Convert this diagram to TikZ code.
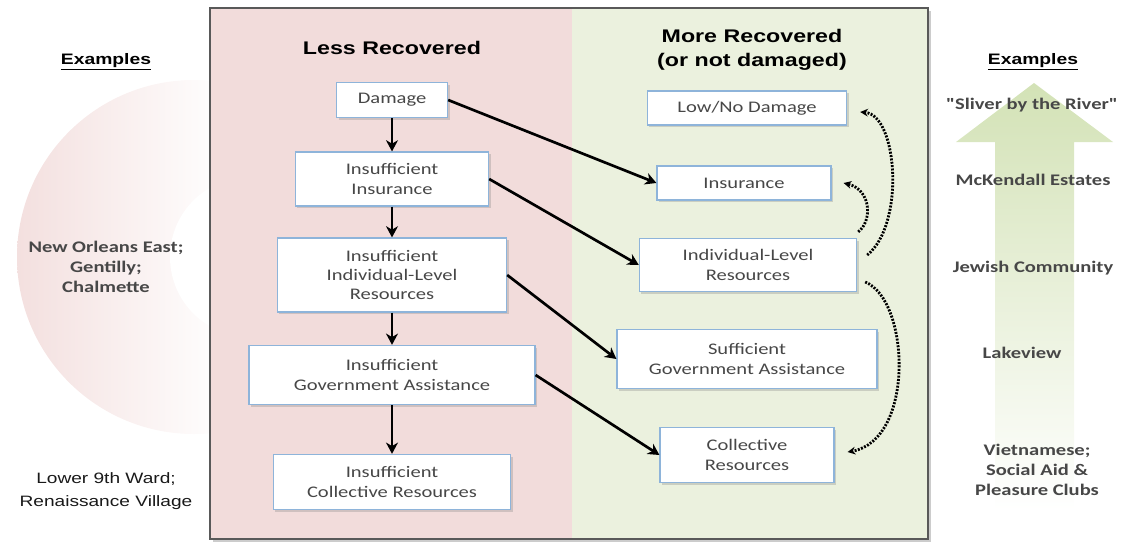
\documentclass[tikz,border=0pt]{standalone}
\usepackage{fontspec}
\usetikzlibrary{arrows.meta,shadows}
\setmainfont{Carlito}[FakeStretch=1.27,Ligatures=TeXOff]
\newfontfamily\headfont{Liberation Sans}[FakeStretch=1.27]
\definecolor{lesspink}{HTML}{F2DCDB}
\definecolor{moregreen}{HTML}{EBF1DE}
\definecolor{boxblue}{HTML}{8EB4DA}
\definecolor{arrowgreen}{HTML}{D3E2B6}
\definecolor{txtgray}{HTML}{474747}

\begin{document}
\begin{tikzpicture}[x=0.025cm,y=-0.025cm,
  box/.style={draw=boxblue,line width=0.8pt,fill=white,align=center,text=txtgray,
    font=\fontsize{11.5}{13.8}\selectfont,
    drop shadow={shadow xshift=1.5pt,shadow yshift=-1.5pt,opacity=0.3}},
  flow/.style={-{Stealth[length=8pt,width=8.5pt,inset=2.5pt]},line width=1.9pt},
  loop/.style={-{Stealth[length=5.5pt,width=5.5pt]},line width=2pt,dash pattern=on 1.4pt off 1pt},
  title/.style={font=\headfont\bfseries\fontsize{13}{17}\selectfont,align=center},
  exhead/.style={font=\headfont\bfseries\fontsize{10.8}{13}\selectfont},
  example/.style={font=\bfseries\fontsize{11.5}{14}\selectfont,text=txtgray,align=center},
  lowex/.style={font=\headfont\fontsize{10.7}{16.4}\selectfont,text=black!90,align=center}]
\useasboundingbox (0,0) rectangle (1123,542);

\begin{scope}
\clip (194,257) circle (177);
\shade[left color=lesspink!90,right color=lesspink!8] (17,80) rectangle (209,434);
\fill[white] (250,257) circle (80);
\end{scope}
\shade[top color=arrowgreen,bottom color=white] (1034,83) -- (1113,142) -- (1074,142)
  -- (1074,510) -- (995,510) -- (995,142) -- (956,142) -- cycle;

\path[fill=lesspink,drop shadow={shadow xshift=2pt,shadow yshift=-2pt,opacity=0.4}] (210,8) rectangle (928,539);
\fill[moregreen] (572,8) rectangle (928,539);
\draw[black!65,line width=1.5pt] (210,8) rectangle (928,539);

\node[title] (lesst) at (392,48) {Less Recovered};
\node[title] (moret) at (752,50) {More Recovered\\(or not damaged)};

\node[box,minimum width=2.78cm,minimum height=0.88cm] (dmg) at (392,100) {Damage};
\node[box,minimum width=4.83cm,minimum height=1.35cm] (ins) at (392,179) {Insufficient\\Insurance};
\node[box,minimum width=5.73cm,minimum height=1.85cm] (ind) at (392,275) {Insufficient\\Individual-Level\\Resources};
\node[box,minimum width=7.15cm,minimum height=1.48cm] (gov) at (392,375) {Insufficient\\Government Assistance};
\node[box,minimum width=5.93cm,minimum height=1.38cm] (col) at (392,482) {Insufficient\\Collective Resources};

\node[box,minimum width=4.98cm,minimum height=0.85cm] (lowdmg) at (747,108) {Low/No Damage};
\node[box,minimum width=4.35cm,minimum height=0.85cm] (insok) at (744,183) {Insurance};
\node[box,minimum width=5.43cm,minimum height=1.33cm] (indok) at (748,265) {Individual-Level\\Resources};
\node[box,minimum width=6.5cm,minimum height=1.48cm] (govok) at (747,359) {Sufficient\\Government Assistance};
\node[box,minimum width=4.35cm,minimum height=1.38cm] (colok) at (747,455) {Collective\\Resources};

\draw[flow] (dmg.south) -- (ins.north);
\draw[flow] (ins.south) -- (ind.north);
\draw[flow] (ind.south) -- (gov.north);
\draw[flow] (gov.south) -- (col.north);

\draw[flow] (dmg.east) -- (insok.west);
\draw[flow] (ins.east) -- (indok.west);
\draw[flow] (ind.east) -- (govok.west);
\draw[flow] (gov.east) -- (colok.west);

\draw[loop] ([shift={(10,-10)}]indok.east) .. controls (905,225) and (898,115) .. ([shift={(13,4)}]lowdmg.east);
\draw[loop] ([shift={(1,-6)}]indok.north east) .. controls (872,222) and (872,190) .. ([shift={(12,0)}]insok.east);
\draw[loop] ([shift={(8,17)}]indok.east) .. controls (910,300) and (915,440) .. ([shift={(13,-3)}]colok.east);

\node[exhead] (exl) at (106,62) {\underline{Examples}};
\node[example] (noe) at (106,267) {New Orleans East;\\Gentilly;\\Chalmette};
\node[lowex] (l9w) at (106,491) {Lower 9th Ward;\\Renaissance Village};

\node[exhead] (exr) at (1033,62) {\underline{Examples}};
\node[example] (sliver) at (1032,105) {"Sliver by the River"};
\node[example] (mck) at (1033,180) {McKendall Estates};
\node[example] (jew) at (1033,268) {Jewish Community};
\node[example] (lake) at (1022,353) {Lakeview};
\node[example] (viet) at (1037,470) {Vietnamese;\\Social Aid \&\\Pleasure Clubs};
\end{tikzpicture}
\end{document}
